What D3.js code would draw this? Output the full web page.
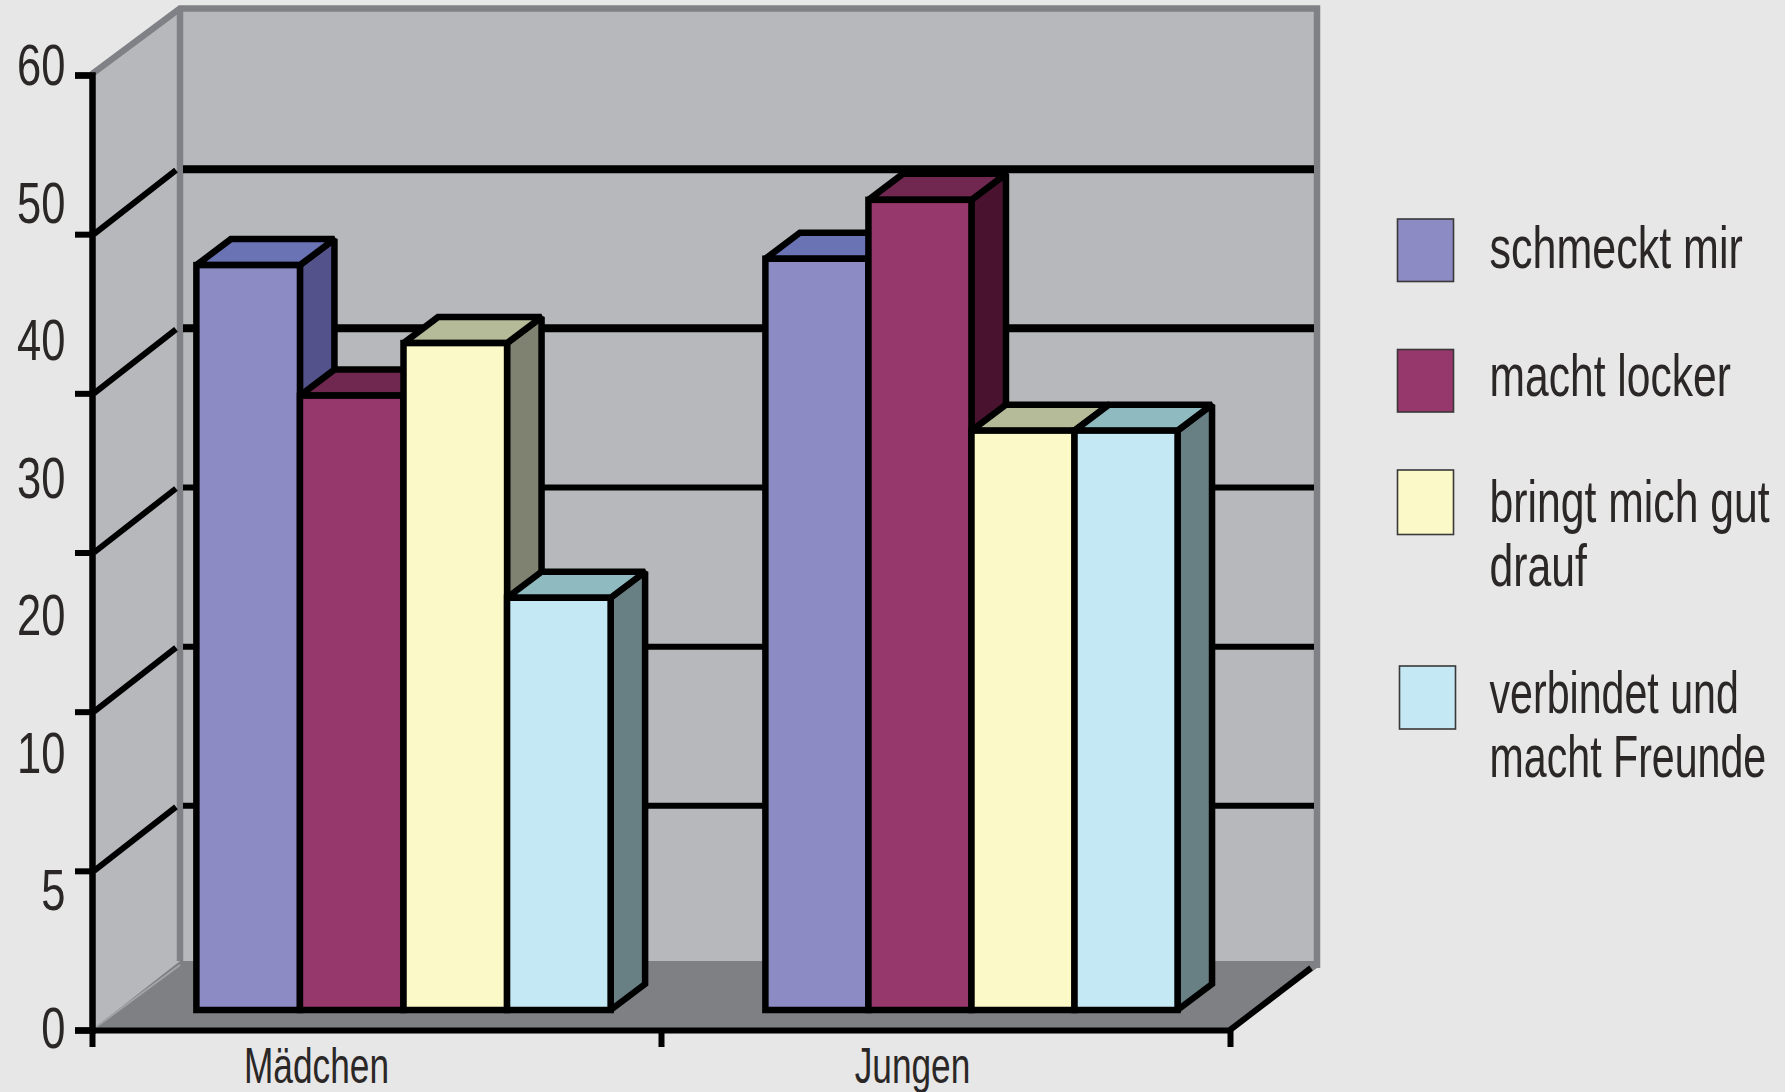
<!DOCTYPE html>
<html lang="de">
<head>
<meta charset="utf-8">
<title>Mädchen und Jungen</title>
<script src="https://cdn.jsdelivr.net/npm/d3@7"></script>
<style>
  html, body { margin: 0; padding: 0; background: #e7e7e7; }
  svg { display: block; }
  text { font-family: "Liberation Sans", Arial, sans-serif; fill: #2b2727; }
</style>
</head>
<body>
<svg id="chart" width="1785" height="1092"></svg>
<script>
// Survey answers per group
const categories = ["Mädchen", "Jungen"];
const seriesNames = ["schmeckt mir", "macht locker", "bringt mich gut drauf", "verbindet und macht Freunde"];
const maedchenValues = [46.8, 38.6, 41.9, 25.9];
const jungenValues = [47.2, 50.9, 36.4, 36.4];
const gridValues = [10, 20, 30, 40, 50];
const gridWidths = [6, 6, 6, 8, 8];
const axisTicks = [0, 10, 20, 30, 40, 50, 60];
const axisLabels = ["60", "50", "40", "30", "20", "10", "5", "0"];

// Face colours per series
const frontColors = ["#8d8bc4", "#97386c", "#fbf9c8", "#c4e8f4"];
const topColors = ["#6a73b4", "#702850", "#b5ba98", "#8fbbc0"];
const sideColors = ["#53528a", "#491330", "#7f8270", "#687f83"];

// Legend rows: wrapped text, condensing factor and swatch placement
const legendLines = [["schmeckt mir"], ["macht locker"], ["bringt mich gut", "drauf"], ["verbindet und", "macht Freunde"]];
const legendCondense = [0.717, 0.71, 0.712, 0.686];
const legendBaselines = [268, 396, 522, 713];
const swatchBoxes = [[1397.5, 219, 56, 62.5], [1397.5, 349.5, 56, 62.5], [1397.5, 470, 56, 64.5], [1399.5, 666, 56, 63]];

const svg = d3.select("#chart");

const x0 = d3.scaleBand().domain(categories).range([92, 1230]).paddingInner(0.272).paddingOuter(0.136);
const groupSpan = [1, 0.995];
const y = d3.scaleLinear().domain([0, 60]).range([1030, 75]);

// Oblique projection of the box and of the bars standing inside it
const wallDX = 88, wallDY = 65;
const barInsetX = 27, barInsetY = 20;
const barDX = 34.5, barDY = 26;

const poly = pts => "M" + pts.map(p => p.join(",")).join("L") + "Z";
const [axisL, axisR] = x0.range();
const yBottom = y(0), yTop = y(60);
const backL = axisL + wallDX, backR = axisR + wallDX - 1;

const box = svg.append("g");
box.append("rect").attr("x", backL).attr("y", yTop - wallDY).attr("width", backR - backL).attr("height", yBottom - yTop).attr("fill", "#b7b8bb");
box.append("path").attr("d", poly([[axisL, yTop], [backL, yTop - wallDY], [backL, yBottom - wallDY], [axisL, yBottom]])).attr("fill", "#b7b8bb");
box.append("path").attr("d", poly([[axisL, yBottom], [backL, yBottom - wallDY - 4], [backR, yBottom - wallDY - 4], [backR, yBottom - wallDY + 3], [axisR, yBottom]])).attr("fill", "#7f8084");
box.append("path").attr("d", `M${axisL + 4},${yBottom - 3}L${backL},${yBottom - wallDY}`).attr("stroke", "#a2a3a6").attr("stroke-width", 2).attr("fill", "none");

// Grey frame of the box
box.append("path")
  .attr("d", `M${axisL},${yTop - 1}L${backL},${yTop - wallDY - 1.5}L${backR},${yTop - wallDY - 1.5}L${backR},${yBottom - wallDY + 3}M${backL},${yTop - wallDY - 1.5}L${backL},${yBottom - wallDY - 4}`)
  .attr("fill", "none").attr("stroke", "#808186").attr("stroke-width", 6.5);

// Gridlines: along the back wall and obliquely over the side wall
const grid = svg.append("g").attr("stroke", "#000").attr("fill", "none");
gridValues.forEach((v, i) => {
  grid.append("line").attr("x1", backL + 3).attr("x2", backR - 3).attr("y1", y(v) - wallDY).attr("y2", y(v) - wallDY).attr("stroke-width", gridWidths[i]);
  grid.append("line").attr("x1", axisL + 2).attr("y1", y(v)).attr("x2", backL - 4).attr("y2", y(v) - wallDY + 1).attr("stroke-width", 6);
});

// Bars, left to right so each one overlaps its left neighbour
const groups = [maedchenValues, jungenValues];
categories.forEach((cat, c) => {
  const x1 = d3.scaleBand().domain(d3.range(seriesNames.length)).range([0, x0.bandwidth() * groupSpan[c]]);
  const g = svg.append("g").attr("fill", "none").attr("stroke", "#000").attr("stroke-width", 6.5)
    .attr("stroke-linejoin", "miter").attr("stroke-miterlimit", 2);
  groups[c].forEach((v, s) => {
    const left = x0(cat) + x1(s) + barInsetX;
    const right = left + x1.bandwidth();
    const top = y(v) - barInsetY;
    const base = y(0) - barInsetY;
    g.append("path").attr("fill", sideColors[s]).attr("d", poly([[right, top], [right + barDX, top - barDY], [right + barDX, base - barDY], [right, base]]));
    g.append("path").attr("fill", topColors[s]).attr("d", poly([[left, top], [left + barDX, top - barDY], [right + barDX, top - barDY], [right, top]]));
    g.append("rect").attr("fill", frontColors[s]).attr("x", left).attr("y", top).attr("width", right - left).attr("height", base - top);
  });
});

// Axis lines and tick marks
const yAxis = d3.axisLeft(y).tickValues(axisTicks).tickSize(17).tickFormat("");
const yG = svg.append("g").attr("transform", `translate(${axisL},0)`).call(yAxis);
yG.selectAll("path,line").attr("stroke", "#000");
yG.select("path").attr("stroke-width", 6.5);
yG.selectAll("line").attr("stroke-width", 6);

const tickScale = d3.scaleLinear().domain([0, categories.length]).range(x0.range());
const xAxis = d3.axisBottom(tickScale).tickValues(d3.range(categories.length + 1)).tickSize(17).tickSizeOuter(0).tickFormat("");
const xG = svg.append("g").attr("transform", `translate(0,${yBottom})`).call(xAxis);
xG.selectAll("path,line").attr("stroke", "#000");
xG.select("path").attr("stroke-width", 6);
xG.selectAll("line").attr("stroke-width", 6);

// Right-hand edge of the floor, drawn as part of the axis
svg.append("line").attr("x1", axisR).attr("y1", yBottom).attr("x2", backR - 6).attr("y2", yBottom - wallDY + 3).attr("stroke", "#000").attr("stroke-width", 6);

// Value labels, evenly spaced down the axis
const labelY = d3.scalePoint().domain(axisLabels).range([85, 1048]);
svg.append("g").selectAll("text").data(axisLabels).join("text")
  .attr("transform", d => `translate(65.5,${labelY(d)}) scale(0.75,1)`)
  .attr("text-anchor", "end").attr("font-size", 58).text(d => d);

// Group labels
const labelNudge = [-60, -33];
svg.append("g").selectAll("text").data(categories).join("text")
  .attr("transform", (d, i) => `translate(${x0(d) + x0.bandwidth() / 2 + labelNudge[i]},1083) scale(0.705,1)`)
  .attr("text-anchor", "middle").attr("font-size", 50).text(d => d);

// Legend
const legend = svg.append("g");
seriesNames.forEach((name, i) => {
  const [bx, by, bw, bh] = swatchBoxes[i];
  legend.append("rect").attr("x", bx).attr("y", by).attr("width", bw).attr("height", bh)
    .attr("fill", frontColors[i]).attr("stroke", "#3a3838").attr("stroke-width", 1.6);
  legendLines[i].forEach((line, k) => {
    legend.append("text").attr("transform", `translate(1489.5,${legendBaselines[i] + k * 64}) scale(${legendCondense[i]},1)`).attr("font-size", 60).text(line);
  });
});
</script>
</body>
</html>
